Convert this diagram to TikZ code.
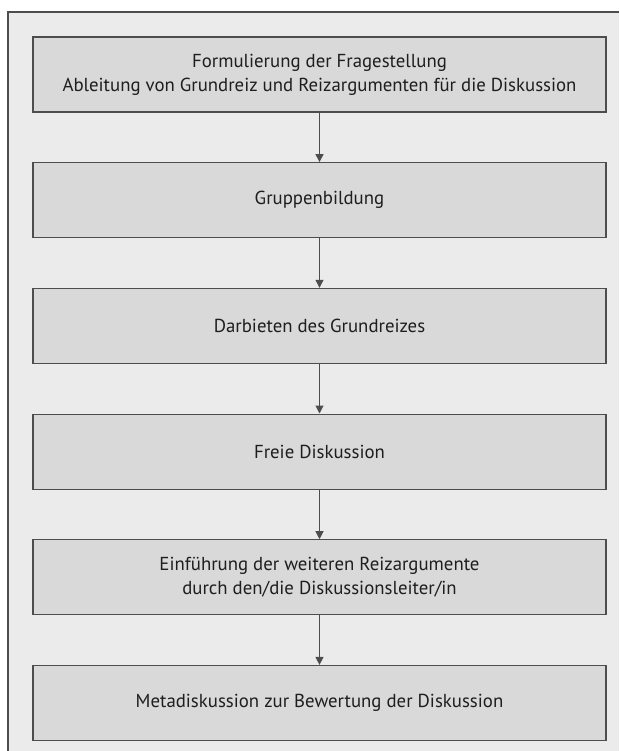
\documentclass[tikz,border=0pt]{standalone}
\usepackage{fontspec}
\setmainfont{PT Sans}
\usetikzlibrary{arrows.meta, positioning}
\definecolor{pagecolor}{RGB}{235, 235, 235}
\definecolor{boxcolor}{RGB}{217, 217, 217}
\definecolor{linecolor}{RGB}{77, 77, 77}
\definecolor{textcolor}{RGB}{30, 30, 30}

\begin{document}
\begin{tikzpicture}[
    x=1pt, y=1pt,
    % Stage box style
    stage/.style={
        rectangle,
        draw=linecolor,
        fill=boxcolor,
        line width=1.2pt,
        minimum width=573pt,
        minimum height=75pt,
        inner sep=0pt,
        align=center,
        text=textcolor,
        font=\fontsize{18.8}{24}\selectfont
    },
    % Arrow style
    arrow/.style={
        -{Triangle[width=8pt, length=8pt]},
        line width=1.1pt,
        color=linecolor
    }
]

% ===== PAGE AND FRAME =====
\useasboundingbox (0,0) rectangle (619,-751);
\fill[white] (0,0) rectangle (619,-751);
\fill[pagecolor] (8,-12) rectangle (619,-751);
\draw[linecolor, line width=1.5pt] (8,-751) -- (8,-12) -- (619,-12);

% ===== STAGES (VERTICAL) =====

\node[stage] (frage) at (319.5,-74.5) {
    Formulierung der Fragestellung\\
    Ableitung von Grundreiz und Reizargumenten für die Diskussion
};

\node[stage, below=49.5pt of frage] (gruppe) {Gruppenbildung};

\node[stage, below=49.5pt of gruppe] (reiz) {Darbieten des Grundreizes};

\node[stage, below=49.5pt of reiz] (frei) {Freie Diskussion};

\node[stage, below=49.5pt of frei] (weitere) {
    Einführung der weiteren Reizargumente\\
    durch den/die Diskussionsleiter/in
};

\node[stage, below=49.5pt of weitere] (meta) {Metadiskussion zur Bewertung der Diskussion};

% ===== ARROWS =====

\draw[arrow] (frage.south) -- (gruppe.north);
\draw[arrow] (gruppe.south) -- (reiz.north);
\draw[arrow] (reiz.south) -- (frei.north);
\draw[arrow] (frei.south) -- (weitere.north);
\draw[arrow] (weitere.south) -- (meta.north);

\end{tikzpicture}
\end{document}
